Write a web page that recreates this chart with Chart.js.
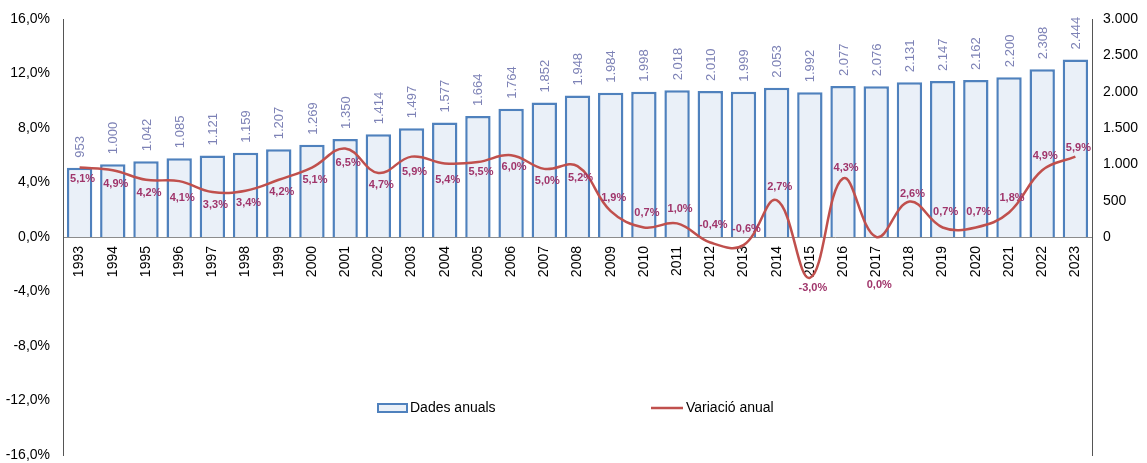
<!DOCTYPE html>
<html>
<head>
<meta charset="utf-8">
<script src="https://cdn.jsdelivr.net/npm/chart.js@4/dist/chart.umd.min.js"></script>
<style>
  html, body { margin: 0; padding: 0; background: #fff; }
  #wrap { width: 1147px; height: 463px; }
</style>
</head>
<body>
<div id="wrap"><canvas id="grafic"></canvas></div>
<script>
// data
const years = ['1993','1994','1995','1996','1997','1998','1999','2000','2001','2002','2003','2004','2005','2006','2007','2008','2009','2010','2011','2012','2013','2014','2015','2016','2017','2018','2019','2020','2021','2022','2023']
const annualData = [953,1000,1042,1085,1121,1159,1207,1269,1350,1414,1497,1577,1664,1764,1852,1948,1984,1998,2018,2010,1999,2053,1992,2077,2076,2131,2147,2162,2200,2308,2444]
const annualChange = [5.1,4.9,4.2,4.1,3.3,3.4,4.2,5.1,6.5,4.7,5.9,5.4,5.5,6.0,5.0,5.2,1.9,0.7,1.0,-0.4,-0.6,2.7,-3.0,4.3,0.0,2.6,0.7,0.7,1.8,4.9,5.9]
const leftTicks = [-16,-12,-8,-4,0,4,8,12,16]
const rightTicks = [0,500,1000,1500,2000,2500,3000]

const FONT = "'Liberation Sans', Arial, sans-serif"

// vertical offset of each % label from its point (label placement, not data)
const pctLabelDy = [11,14,13,17,13,12,12,12,15,12,15,17,10,12,12,12,-13,-14,-14,-17,-16,-13,10,-10,48,-8,-15,-15,-15,-14,-9]

function fmtThousands(v) {
    return String(v).replace(/\B(?=(\d{3})+(?!\d))/g, '.')
}

// fixed axis width, no extra vertical padding from the tick labels
function fixAxis(width) {
    return (axis) => {
        axis.width = width
        axis.paddingTop = 0
        axis.paddingBottom = 0
    }
}

const labelsPlugin = {
    id: 'valueLabels',
    afterDatasetsDraw(chart) {
        const ctx = chart.ctx
        // bar values, rotated
        const barMeta = chart.getDatasetMeta(1)
        ctx.save()
        ctx.fillStyle = '#7d82b6'
        ctx.font = '13px ' + FONT
        ctx.textAlign = 'left'
        ctx.textBaseline = 'middle'
        barMeta.data.forEach((bar, i) => {
            ctx.save()
            ctx.translate(bar.x + 1, bar.y - 10)
            ctx.rotate(-Math.PI / 2)
            ctx.fillText(fmtThousands(annualData[i]), 0, 0)
            ctx.restore()
        })
        ctx.restore()

        // line values
        const lineMeta = chart.getDatasetMeta(0)
        ctx.save()
        ctx.fillStyle = '#a0356b'
        ctx.font = 'bold 11px ' + FONT
        ctx.textAlign = 'center'
        ctx.textBaseline = 'middle'
        lineMeta.data.forEach((pt, i) => {
            const txt = annualChange[i].toFixed(1).replace('.', ',') + '%'
            ctx.fillText(txt, pt.x + 3, pt.y + pctLabelDy[i])
        })
        ctx.restore()
    },
    afterDraw(chart) {
        // legend drawn inside the plot, bottom middle
        const ctx = chart.ctx
        const y = 408
        ctx.save()
        ctx.fillStyle = '#eaf0f8'
        ctx.fillRect(378, y - 4, 29, 8)
        ctx.strokeStyle = '#4f81bd'
        ctx.lineWidth = 2
        ctx.strokeRect(378, y - 4, 29, 8)
        ctx.strokeStyle = '#c0504d'
        ctx.lineWidth = 2.5
        ctx.beginPath()
        ctx.moveTo(651, y)
        ctx.lineTo(683, y)
        ctx.stroke()
        ctx.fillStyle = '#000'
        ctx.font = '14px ' + FONT
        ctx.textBaseline = 'middle'
        ctx.textAlign = 'left'
        ctx.fillText(chart.data.datasets[1].label, 410, y)
        ctx.fillText(chart.data.datasets[0].label, 686, y)
        ctx.restore()
    }
}

new Chart(document.getElementById('grafic'), {
    type: 'bar',
    data: {
        labels: years,
        datasets: [{
            type: 'line',
            label: 'Variació anual',
            data: annualChange,
            yAxisID: 'y',
            borderColor: '#c0504d',
            borderWidth: 2.5,
            pointRadius: 0,
            tension: 0.4,
            fill: false,
            order: 1
        }, {
            type: 'bar',
            label: 'Dades anuals',
            data: annualData,
            yAxisID: 'y1',
            backgroundColor: '#eaf0f8',
            borderColor: '#4f81bd',
            borderWidth: 2.5,
            barPercentage: 0.9,
            categoryPercentage: 0.85,
            order: 2
        }]
    },
    options: {
        responsive: true,
        maintainAspectRatio: false,
        animation: false,
        layout: { padding: { top: 19, bottom: 8, left: 0, right: 0 } },
        plugins: {
            legend: { display: false },
            tooltip: { enabled: false }
        },
        scales: {
            x: {
                position: { y: 0 },
                grid: { display: false, drawTicks: false },
                border: { display: true, color: '#8c8c8c', width: 1 },
                ticks: {
                    minRotation: 90,
                    maxRotation: 90,
                    autoSkip: false,
                    padding: 9,
                    color: '#000',
                    font: { family: FONT, size: 14 }
                }
            },
            y: {
                position: 'left',
                min: leftTicks[0],
                max: leftTicks[leftTicks.length - 1],
                afterBuildTicks: (axis) => { axis.ticks = leftTicks.map(v => ({ value: v })) },
                afterFit: fixAxis(63),
                grid: { display: false, drawTicks: false },
                border: { display: true, color: '#555', width: 1 },
                ticks: {
                    padding: 13,
                    color: '#000',
                    font: { family: FONT, size: 14 },
                    callback: (v) => v.toFixed(1).replace('.', ',') + '%'
                }
            },
            y1: {
                position: 'right',
                min: -rightTicks[rightTicks.length - 1],
                max: rightTicks[rightTicks.length - 1],
                afterBuildTicks: (axis) => { axis.ticks = rightTicks.map(v => ({ value: v })) },
                afterFit: fixAxis(55),
                grid: { display: false, drawTicks: false },
                border: { display: true, color: '#555', width: 1 },
                ticks: {
                    padding: 11,
                    color: '#000',
                    font: { family: FONT, size: 14 },
                    callback: (v) => fmtThousands(v)
                }
            }
        }
    },
    plugins: [labelsPlugin]
});
</script>
</body>
</html>
